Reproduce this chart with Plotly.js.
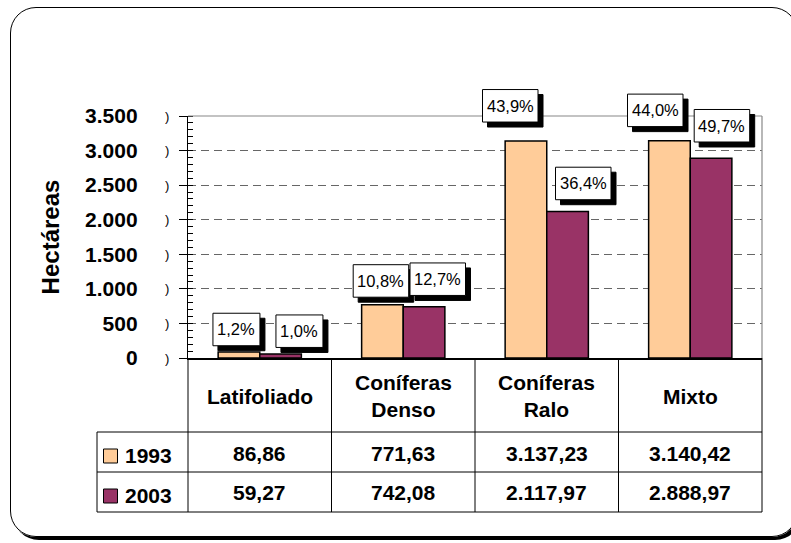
<!DOCTYPE html>
<html><head><meta charset="utf-8">
<script src="https://cdn.plot.ly/plotly-3.0.1.min.js"></script>
<style>
html,body{margin:0;padding:0;width:791px;height:543px;overflow:hidden;background:#fff;}
#frame{position:absolute;left:10px;top:7px;width:786px;height:528px;border:1.2px solid #000;border-radius:26px;box-shadow:3px 3px 0 #000;}
#chart{position:absolute;left:0;top:0;width:791px;height:543px;}
</style></head><body>
<div id="frame"></div>
<div id="chart"></div>
<script>
const categories = ['Latifoliado', 'Coníferas Denso', 'Coníferas Ralo', 'Mixto'];
const seriesNames = ['1993', '2003'];
const values1993 = [86.86, 771.63, 3137.23, 3140.42];
const values2003 = [59.27, 742.08, 2117.97, 2888.97];
const pct1993 = [1.2, 10.8, 43.9, 44.0];
const pct2003 = [1.0, 12.7, 36.4, 49.7];
const yTicks = [0, 500, 1000, 1500, 2000, 2500, 3000, 3500];

const colors = ['#FFCC99', '#993366'];
const FONT = 'Liberation Sans, Arial, sans-serif';
const yMax = 3500;

function fmtEs(v, d) {
  const s = v.toFixed(d);
  let parts = s.split('.');
  let i = parts[0].replace(/\B(?=(\d{3})+(?!\d))/g, '.');
  return parts.length > 1 ? i + ',' + parts[1] : i;
}

// pixel -> paper helpers (plot area 188..762 x, 116..358 y)
const L = 188, R = 762, T = 116, B = 358;
const px = p => (p - L) / (R - L);
const py = p => (B - p) / (B - T);

const traces = [values1993, values2003].map((vals, k) => ({
  type: 'bar', name: seriesNames[k], x: categories, y: vals,
  marker: {color: colors[k], line: {color: '#000', width: 1.5}},
  hoverinfo: 'skip', showlegend: false
}));

const shapes = [];
const annotations = [];

// plot-area top and right borders (gray)
shapes.push({type: 'line', xref: 'paper', yref: 'paper', x0: 0, x1: 1, y0: 1, y1: 1, line: {color: '#888', width: 1.2}});
shapes.push({type: 'line', xref: 'paper', yref: 'paper', x0: 1, x1: 1, y0: 0, y1: 1, line: {color: '#888', width: 1.2}});

// data table grid
const tblLine = {color: '#000', width: 1};
[432, 472, 512].forEach(yy => shapes.push({type: 'line', xref: 'paper', yref: 'paper', x0: px(97), x1: 1, y0: py(yy), y1: py(yy), line: tblLine}));
shapes.push({type: 'line', xref: 'paper', yref: 'paper', x0: px(97), x1: px(97), y0: py(432), y1: py(512), line: tblLine});
shapes.push({type: 'line', xref: 'paper', yref: 'paper', x0: 0, x1: 0, y0: py(358), y1: py(512), line: tblLine});
shapes.push({type: 'line', xref: 'paper', yref: 'paper', x0: 1, x1: 1, y0: py(358), y1: py(512), line: tblLine});
for (let i = 0; i < categories.length - 1; i++) {
  shapes.push({type: 'line', xref: 'x', yref: 'paper', x0: i + 0.5, x1: i + 0.5, y0: py(358), y1: py(512), line: tblLine});
}

const boldFont = {family: FONT, size: 21, color: '#000', weight: 700};

// category labels + values in the table
categories.forEach((c, i) => {
  annotations.push({xref: 'x', yref: 'paper', x: c, y: py(396), text: c.replace(' ', '<br>'),
    showarrow: false, font: boldFont, yanchor: 'middle', align: 'center'});
  annotations.push({xref: 'x', yref: 'paper', x: c, y: py(453), text: fmtEs(values1993[i], 2),
    showarrow: false, font: boldFont, yanchor: 'middle'});
  annotations.push({xref: 'x', yref: 'paper', x: c, y: py(492), text: fmtEs(values2003[i], 2),
    showarrow: false, font: boldFont, yanchor: 'middle'});
});

// legend keys in the table
[[449, 463], [489, 503]].forEach((r, k) => {
  shapes.push({type: 'rect', xref: 'paper', yref: 'paper', x0: px(103.5), x1: px(117.5), y0: py(r[1]), y1: py(r[0]),
    fillcolor: colors[k], line: {color: '#000', width: 1}});
  annotations.push({xref: 'paper', yref: 'paper', x: px(123), y: py((r[0] + r[1]) / 2 - 1), xanchor: 'left', yanchor: 'middle',
    text: seriesNames[k], showarrow: false, font: boldFont});
});

// small ")" marks beside the tick labels
yTicks.forEach(t => {
  annotations.push({xref: 'paper', yref: 'y', x: px(167), y: t, text: ')', showarrow: false,
    font: {family: FONT, size: 13, color: '#000'}, xanchor: 'center', yanchor: 'middle'});
});

// percentage labels: shadowed boxes (pixel offsets from the bar top) + text
const offs1993 = [[-23.3, 22.5], [-22.3, 23.7], [-36.5, 35.3], [-35, 30.5]];
const offs2003 = [[39.7, 22.7], [34.5, 27.5], [36.5, 28.1], [31.7, 32.5]];
const shadowShapes = [], boxShapes = [];
[[values1993, pct1993, offs1993], [values2003, pct2003, offs2003]].forEach(([vals, pcts, offs]) => {
  categories.forEach((c, i) => {
    const txt = fmtEs(pcts[i], 1) + '%';
    const w = txt.length <= 4 ? 47 : 55.5, h = 32.5;
    const dx = offs[i][0], dy = offs[i][1];
    // paper-referenced anchor (category centre, bar top) so boxes are not clipped by the plot area
    const box = {type: 'rect', xref: 'paper', yref: 'paper', xsizemode: 'pixel', ysizemode: 'pixel',
      xanchor: (i + 0.5) / categories.length, yanchor: vals[i] / yMax, layer: 'above'};
    shadowShapes.push(Object.assign({}, box, {x0: dx - w / 2 + 5, x1: dx + w / 2 + 5, y0: dy - h / 2 - 5, y1: dy + h / 2 - 5,
      fillcolor: '#000', line: {color: '#000', width: 1}}));
    boxShapes.push(Object.assign({}, box, {x0: dx - w / 2, x1: dx + w / 2, y0: dy - h / 2, y1: dy + h / 2,
      fillcolor: '#fff', line: {color: '#000', width: 1}}));
    annotations.push({xref: 'x', yref: 'y', x: c, y: vals[i], text: txt, showarrow: false,
      xshift: dx, yshift: dy, font: {family: FONT, size: 16.5, color: '#000'}, xanchor: 'center', yanchor: 'middle'});
  });
});
shapes.push(...shadowShapes, ...boxShapes);

const layout = {
  width: 791, height: 543,
  margin: {l: L, r: 791 - R, t: T, b: 543 - B, pad: 0},
  paper_bgcolor: 'rgba(0,0,0,0)', plot_bgcolor: '#fff',
  separators: ',.',
  barmode: 'group', bargap: 0.42, bargroupgap: 0,
  font: {family: FONT, color: '#000'},
  xaxis: {type: 'category', showticklabels: false, ticks: '', showgrid: false,
    showline: true, linecolor: '#000', linewidth: 1.5, zeroline: false, fixedrange: true},
  yaxis: {range: [0, yMax], tickmode: 'array', tickvals: yTicks, ticktext: yTicks.map(t => fmtEs(t, 0)),
    tickfont: {family: FONT, size: 21, color: '#000', weight: 700},
    ticks: 'outside', ticklen: 8, tickcolor: '#000', tickwidth: 1, ticklabelstandoff: 37,
    minor: {ticks: 'inside', dtick: 100, tick0: 0, ticklen: 5, tickcolor: '#000', tickwidth: 1, showgrid: false},
    showgrid: true, gridcolor: '#666', griddash: '8px,5px', gridwidth: 1,
    showline: true, linecolor: '#000', linewidth: 1.2, zeroline: false, fixedrange: true,
    title: {text: 'Hectáreas', font: {family: FONT, size: 24, color: '#000', weight: 700}, standoff: 18}},
  shapes: shapes,
  annotations: annotations
};

Plotly.newPlot('chart', traces, layout, {displayModeBar: false, staticPlot: true});
</script>
</body></html>
